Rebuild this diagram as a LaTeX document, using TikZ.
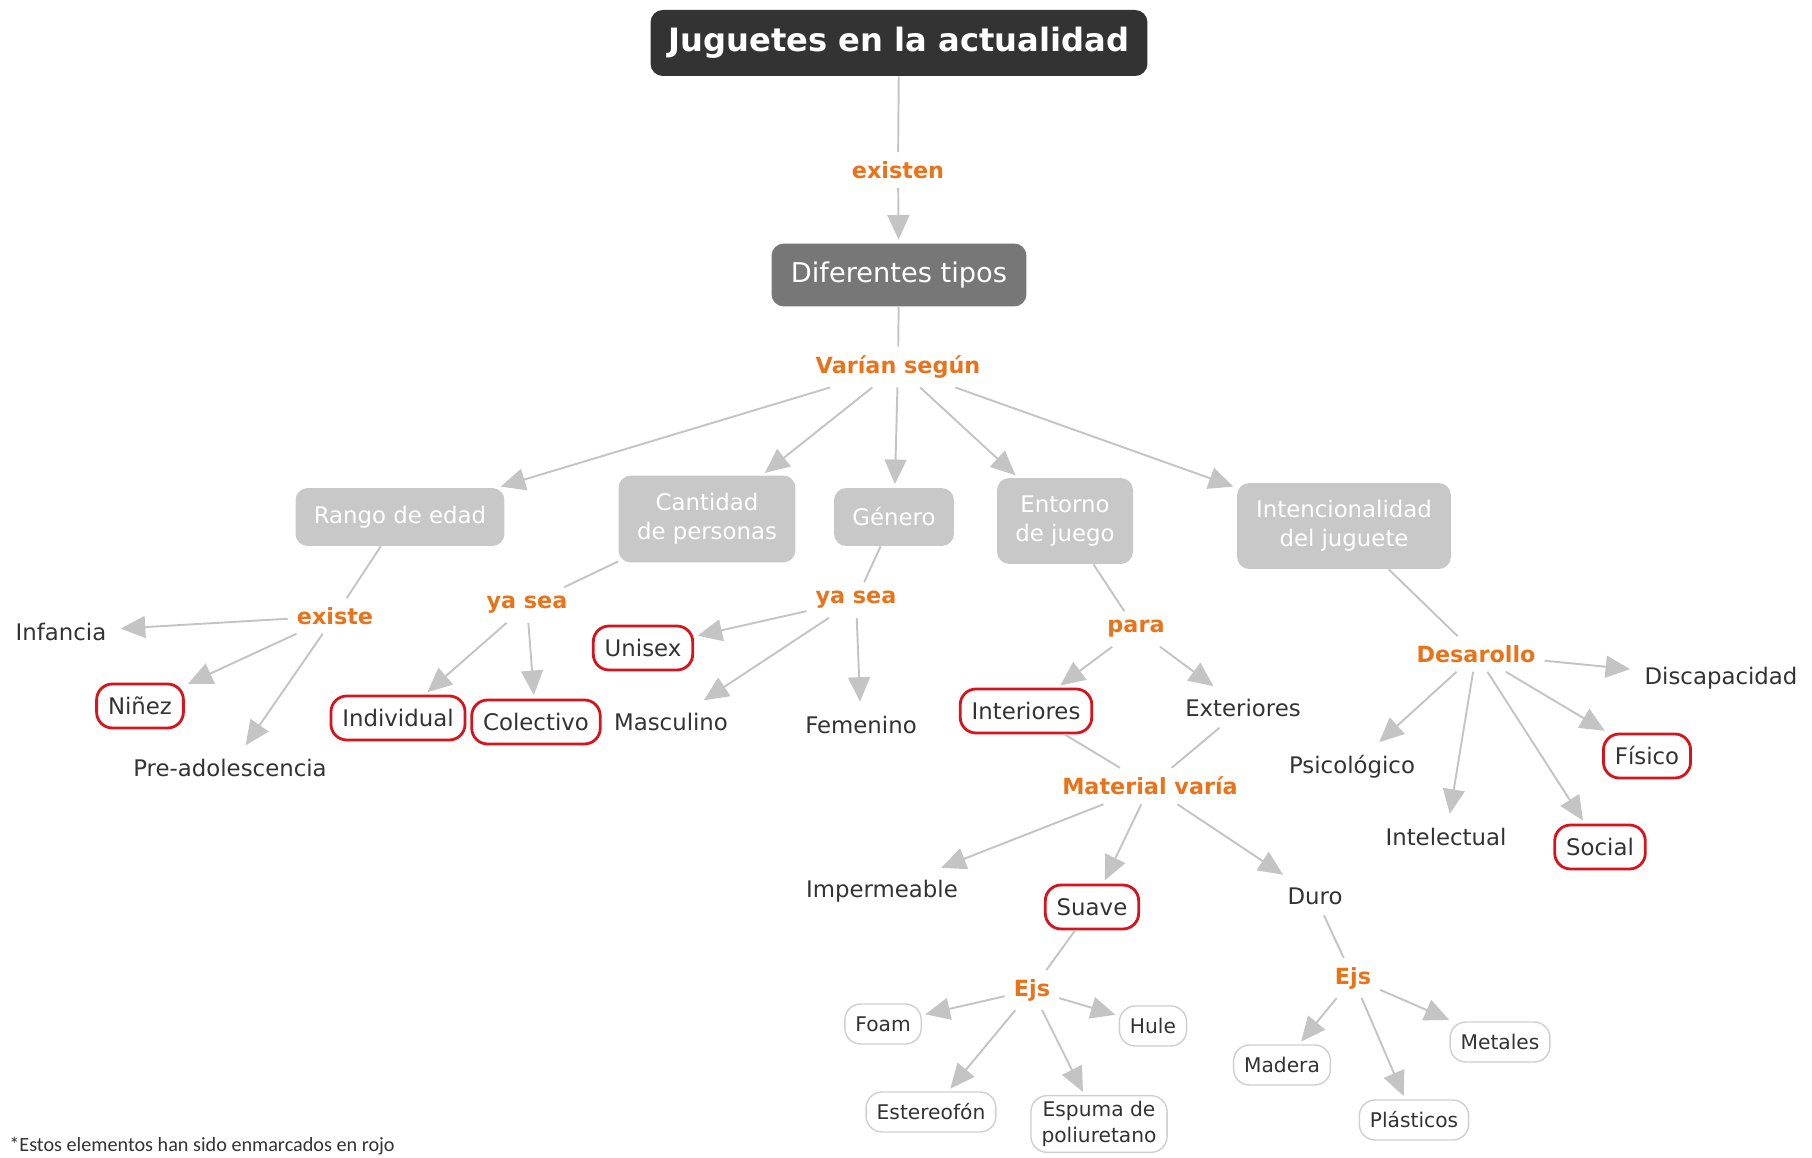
\documentclass[tikz,border=0pt]{standalone}
\usepackage{fontspec}
\setmainfont{DejaVu Sans}
\newfontfamily\notefont{Carlito}
\usepackage{tikz}
\usetikzlibrary{arrows.meta}

\begin{document}
\begin{tikzpicture}[x=0.02cm, y=-0.02cm,
  every node/.style={text=toytext, font=\fontsize{13}{16}\selectfont},
  titlebox/.style={fill=toydark, text=white, rounded corners=7pt, minimum width=9.94cm, minimum height=1.32cm, font=\fontsize{18.3}{22}\selectfont\bfseries},
  typebox/.style={fill=toymid, text=white, rounded corners=7pt, minimum width=5.1cm, minimum height=1.26cm, font=\fontsize{15.5}{19}\selectfont},
  catbox/.style={fill=toylight, text=white, rounded corners=7pt, align=center, minimum height=1.16cm, font=\fontsize{13}{16.5}\selectfont},
  linkword/.style={text=toyorange, inner sep=5pt, font=\fontsize{12.7}{15}\selectfont\bfseries},
  leaf/.style={inner sep=6pt},
  redleaf/.style={draw=toyred, line width=1.6pt, fill=white, rounded corners=9pt, minimum height=0.88cm, inner xsep=6.5pt},
  greyleaf/.style={draw=toyedge, line width=0.8pt, fill=white, rounded corners=9pt, minimum height=0.8cm, inner xsep=6pt, align=center, font=\fontsize{11.5}{14.4}\selectfont},
  link/.style={draw=toyline, line width=1.1pt},
  linkarrow/.style={link, -{Triangle[length=14pt, width=12.5pt]}, shorten >=2pt}
]
  % Colours
  \definecolor{toydark}{HTML}{333333}
  \definecolor{toymid}{HTML}{777777}
  \definecolor{toylight}{HTML}{C8C8C8}
  \definecolor{toyorange}{HTML}{E8731B}
  \definecolor{toyred}{HTML}{D7141E}
  \definecolor{toyedge}{HTML}{CFCFCF}
  \definecolor{toyline}{HTML}{C4C4C4}
  \definecolor{toytext}{HTML}{333333}

  \useasboundingbox (0,0) rectangle (1812,1158);
  \clip (0,0) rectangle (1812,1158);

  % Top
  \node[titlebox] (title) at (899,43) {Juguetes en la actualidad};
  \node[linkword] (existen) at (898,170) {existen};
  \node[typebox] (tipos) at (899,275) {Diferentes tipos};
  \node[linkword] (varian) at (898,367) {Varían según};

  % Categories
  \node[catbox, minimum width=4.18cm] (rango) at (400,517) {Rango de edad};
  \node[catbox, minimum width=3.54cm, minimum height=1.74cm] (cantidad) at (707,519) {Cantidad\\de personas};
  \node[catbox, minimum width=2.4cm] (genero) at (894,517) {Género};
  \node[catbox, minimum width=2.72cm, minimum height=1.72cm] (entorno) at (1065,521) {Entorno\\de juego};
  \node[catbox, minimum width=4.28cm, minimum height=1.72cm] (intencion) at (1344,526) {Intencionalidad\\del juguete};

  % Rango de edad
  \node[linkword] (existe) at (335,616) {existe};
  \node[leaf] (infancia) at (61,632) {Infancia};
  \node[redleaf] (ninez) at (140,706) {Niñez};
  \node[leaf] (preado) at (230,768) {Pre-adolescencia};

  % Cantidad de personas
  \node[linkword] (yasea1) at (527,605) {ya sea};
  \node[redleaf] (individual) at (398,718) {Individual};
  \node[redleaf] (colectivo) at (536,722) {Colectivo};

  % Genero
  \node[linkword] (yasea2) at (856,600) {ya sea};
  \node[redleaf] (unisex) at (643,648) {Unisex};
  \node[leaf] (masculino) at (671,722) {Masculino};
  \node[leaf] (femenino) at (861,725) {Femenino};

  % Entorno de juego
  \node[linkword] (para) at (1136,629) {para};
  \node[redleaf] (interiores) at (1026,711) {Interiores};
  \node[leaf] (exteriores) at (1243,708) {Exteriores};
  \node[linkword] (material) at (1150,786) {Material varía};
  \node[leaf] (imperm) at (882,891) {Impermeable};
  \node[redleaf] (suave) at (1092,907) {Suave};
  \node[leaf] (duro) at (1315,896) {Duro};

  % Suave
  \node[linkword] (ejs1) at (1032,990) {Ejs};
  \node[greyleaf] (foam) at (883,1024) {Foam};
  \node[greyleaf] (hule) at (1153,1026) {Hule};
  \node[greyleaf] (estereo) at (931,1112) {Estereofón};
  \node[greyleaf] (espuma) at (1099,1124) {Espuma de\\poliuretano};

  % Duro
  \node[linkword] (ejs2) at (1353,978) {Ejs};
  \node[greyleaf] (madera) at (1282,1065) {Madera};
  \node[greyleaf] (metales) at (1500,1042) {Metales};
  \node[greyleaf] (plastico) at (1414,1120) {Plásticos};

  % Intencionalidad
  \node[linkword] (desarollo) at (1476,654) {Desarollo};
  \node[leaf] (discapac) at (1721,678) {Discapacidad};
  \node[redleaf] (fisico) at (1647,756) {Físico};
  \node[leaf] (psico) at (1352,767) {Psicológico};
  \node[leaf] (intelec) at (1446,837) {Intelectual};
  \node[redleaf] (social) at (1600,847) {Social};

  % Note
  \node[anchor=base west, inner sep=0pt, font=\notefont\fontsize{11.5}{14}\selectfont] (nota) at (9,1151) {*Estos elementos han sido enmarcados en rojo};

  % Connectors
  \draw[link] (title) -- (existen);
  \draw[linkarrow] (existen) -- (tipos);
  \draw[link] (tipos) -- (varian);
  \foreach \cat in {rango,cantidad,genero,entorno,intencion}
    \draw[linkarrow] (varian) -- (\cat);

  \draw[link] (rango) -- (existe);
  \foreach \leafnode in {infancia,ninez,preado}
    \draw[linkarrow] (existe) -- (\leafnode);

  \draw[link] (cantidad) -- (yasea1);
  \foreach \leafnode in {individual,colectivo}
    \draw[linkarrow] (yasea1) -- (\leafnode);

  \draw[link] (genero) -- (yasea2);
  \foreach \leafnode in {unisex,masculino,femenino}
    \draw[linkarrow] (yasea2) -- (\leafnode);

  \draw[link] (entorno) -- (para);
  \foreach \leafnode in {interiores,exteriores}
    \draw[linkarrow] (para) -- (\leafnode);
  \draw[link] (interiores) -- (material);
  \draw[link] (exteriores) -- (material);
  \foreach \leafnode in {imperm,suave,duro}
    \draw[linkarrow] (material) -- (\leafnode);

  \draw[link] (suave) -- (ejs1);
  \foreach \leafnode in {foam,hule,estereo,espuma}
    \draw[linkarrow] (ejs1) -- (\leafnode);

  \draw[link] (duro) -- (ejs2);
  \foreach \leafnode in {madera,metales,plastico}
    \draw[linkarrow] (ejs2) -- (\leafnode);

  \draw[link] (intencion) -- (desarollo);
  \foreach \leafnode in {discapac,fisico,psico,intelec,social}
    \draw[linkarrow] (desarollo) -- (\leafnode);
\end{tikzpicture}
\end{document}
